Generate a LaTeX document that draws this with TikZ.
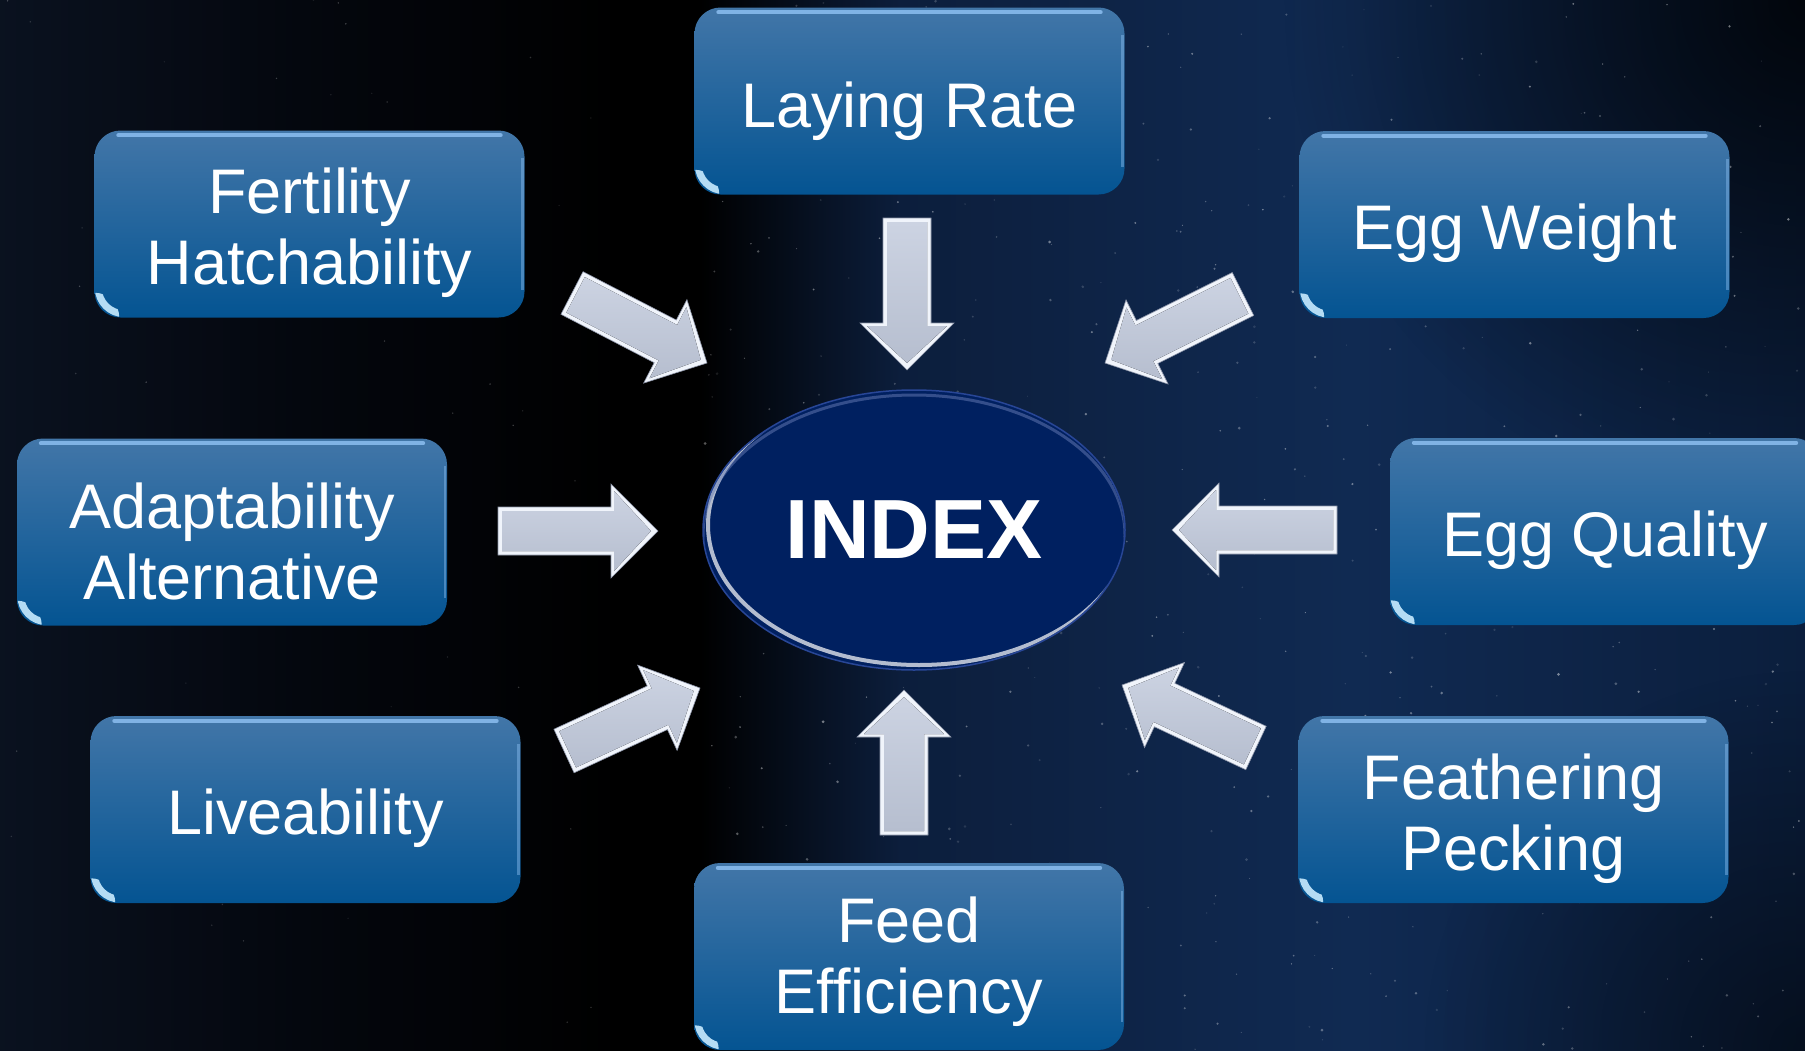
\documentclass[tikz,border=0pt]{standalone}
\usepackage{fontspec}
\setmainfont{Liberation Sans}
\usetikzlibrary{calc,shapes.geometric,fadings}
\definecolor{boxtop}{RGB}{66,118,168}
\definecolor{boxmid}{RGB}{14,94,152}
\definecolor{boxbot}{RGB}{4,84,146}
\definecolor{boxhi}{RGB}{140,190,240}
\definecolor{glosshi}{RGB}{200,235,255}
\definecolor{navy}{RGB}{0,32,96}
\definecolor{rim}{RGB}{40,70,150}
\definecolor{silverhi}{RGB}{240,244,251}
\definecolor{silvertop}{RGB}{204,211,226}
\definecolor{silverbot}{RGB}{182,190,207}
\definecolor{silveredge}{RGB}{140,148,168}
\definecolor{bgA}{RGB}{10,18,32}
\definecolor{bgB}{RGB}{4,7,14}
\definecolor{bgC}{RGB}{12,30,60}
\definecolor{bgD}{RGB}{16,42,82}
\definecolor{bgE}{RGB}{11,30,60}
\tikzfading[name=radfade, inner color=transparent!0, outer color=transparent!100]
\newcommand\blockarrow[2]{%
  \path ($(#1)!24pt!90:(#2)$) coordinate (s1)
        ($(#1)!24pt!-90:(#2)$) coordinate (s2)
        ($(#2)!47pt!(#1)$) coordinate (hb);
  \path ($(hb)!24pt!90:(#2)$) coordinate (h1)
        ($(hb)!47pt!90:(#2)$) coordinate (h2)
        ($(hb)!47pt!-90:(#2)$) coordinate (h3)
        ($(hb)!24pt!-90:(#2)$) coordinate (h4);
  \filldraw[arrowouter] (s1) -- (h1) -- (h2) -- (#2) -- (h3) -- (h4) -- (s2) -- cycle;
  \path ($(#1)!4pt!(#2)$) coordinate (ti)
        ($(#2)!7pt!(#1)$) coordinate (pi)
        ($(hb)!3pt!(#2)$) coordinate (hbi);
  \path ($(ti)!20pt!90:(#2)$) coordinate (u1)
        ($(ti)!20pt!-90:(#2)$) coordinate (u2)
        ($(hbi)!20pt!90:(#2)$) coordinate (v1)
        ($(hbi)!40pt!90:(#2)$) coordinate (v2)
        ($(hbi)!40pt!-90:(#2)$) coordinate (v3)
        ($(hbi)!20pt!-90:(#2)$) coordinate (v4);
  \fill[arrowinner] (u1) -- (v1) -- (v2) -- (pi) -- (v3) -- (v4) -- (u2) -- cycle;
}
\newcommand\glossbox[1]{%
  \begin{scope}
    \clip[rounded corners=26pt] (#1.north west) rectangle (#1.south east);
    \draw[line width=4pt, boxhi, opacity=0.85, line cap=round]
      ($(#1.north west)+(24,5)$) -- ($(#1.north east)+(-24,5)$);
    \draw[line width=2.5pt, boxhi, opacity=0.45]
      ($(#1.north east)+(-2,28)$) -- ($(#1.south east)+(-2,-28)$);
  \end{scope}
  \begin{scope}
    \clip[rounded corners=26pt] (#1.north west) rectangle (#1.south east);
    \clip (#1.south west) circle (25pt);
    \draw[line width=7pt, glosshi, opacity=0.9, rounded corners=26pt]
      ($(#1.north west)+(4,-4)$) rectangle ($(#1.south east)+(4,-4)$);
  \end{scope}
}
\begin{document}
\begin{tikzpicture}[x=1pt,y=-1pt,
  factor/.style={rounded corners=26pt, minimum width=430pt, minimum height=187pt,
    inner sep=0pt, top color=boxtop, middle color=boxmid, bottom color=boxbot},
  factortext/.style={text=white, align=center, inner sep=0pt,
    font=\fontsize{63}{71}\selectfont},
  arrowouter/.style={fill=silverhi, draw=silveredge, line width=0.6pt, line join=miter},
  arrowinner/.style={top color=silvertop, bottom color=silverbot}]
\useasboundingbox (0,0) rectangle (1805,1050);
\clip (0,0) rectangle (1805,1050);
% background
\fill[black] (-10,-10) rectangle (1815,1060);
\fill[left color=bgA, right color=bgB] (-10,-10) rectangle (300,1060);
\fill[left color=bgB, right color=black] (299,-10) rectangle (621,1060);
\fill[black] (619,-10) rectangle (702,1060);
\fill[left color=black, right color=bgC] (700,-10) rectangle (901,1060);
\fill[left color=bgC, right color=bgD] (899,-10) rectangle (1351,1060);
\fill[left color=bgD, right color=bgE] (1349,-10) rectangle (1815,1060);
\fill[black, path fading=radfade, fill opacity=0.8] (1805,0) circle (520pt);
\fill[black, path fading=radfade, fill opacity=0.5] (1805,1050) circle (380pt);
% stars
\pgfmathsetseed{4217}
\foreach \i in {1,...,480}{
  \pgfmathsetmacro{\sx}{700+1105*rnd}
  \pgfmathsetmacro{\sy}{1050*rnd}
  \pgfmathsetmacro{\so}{0.10+0.35*rnd}
  \pgfmathsetmacro{\sr}{0.5+1.0*rnd}
  \fill[white, opacity=\so] (\sx,\sy) circle (\sr pt);
}
\foreach \i in {1,...,60}{
  \pgfmathsetmacro{\sx}{600*rnd}
  \pgfmathsetmacro{\sy}{1050*rnd}
  \pgfmathsetmacro{\so}{0.08+0.2*rnd}
  \fill[white, opacity=\so] (\sx,\sy) circle (0.8pt);
}
% factor boxes
\node[factor] (lay)  at (909.5,101)   {};
\node[factor] (fert) at (309.5,224)   {};
\node[factor] (egw)  at (1514.5,224.5){};
\node[factor] (adap) at (232,532)     {};
\node[factor] (egq)  at (1605,531.5)  {};
\node[factor] (live) at (305.5,809.5) {};
\node[factor] (feat) at (1513.5,809.5){};
\node[factor] (feed) at (909,956.5)   {};
\foreach \b in {lay,fert,egw,adap,egq,live,feat,feed}{\glossbox{\b}}
\node[factortext] (layT)  at ($(lay.center)+(0,10)$)  {Laying Rate};
\node[factortext] (fertT) at ($(fert.center)+(0,9)$)  {Fertility\\Hatchability};
\node[factortext] (egwT)  at ($(egw.center)+(0,9)$)   {Egg Weight};
\node[factortext] (adapT) at ($(adap.center)+(0,9)$)  {Adaptability\\Alternative};
\node[factortext] (egqT)  at ($(egq.center)+(0,9)$)   {Egg Quality};
\node[factortext] (liveT) at ($(live.center)+(0,9)$)  {Liveability};
\node[factortext] (featT) at ($(feat.center)+(0,9)$)  {Feathering\\Pecking};
\node[factortext] (feedT) at ($(feed.center)+(0,5)$)  {Feed\\Efficiency};
% central ellipse
\node[ellipse, fill=navy, draw=rim, line width=1.5pt, minimum width=422pt,
  minimum height=280pt, inner sep=0pt, text=white,
  font=\bfseries\fontsize{84}{90}\selectfont] (index) at (914,530) {INDEX};
\begin{scope}
  \clip (914,530) ellipse [x radius=210, y radius=139];
  \draw[white, line width=4pt, opacity=0.7] (919,525) ellipse [x radius=211, y radius=140];
  \draw[rim!70!white, line width=3pt, opacity=0.5] (914,535) ellipse [x radius=211, y radius=140];
\end{scope}
% arrow end points
\coordinate (aFt) at (572,293);  \coordinate (aFh) at (707,363);
\coordinate (aLt) at (907,218);  \coordinate (aLh) at (907,370);
\coordinate (aWt) at (1243,294); \coordinate (aWh) at (1105,363);
\coordinate (aAt) at (498,531);  \coordinate (aAh) at (658,531);
\coordinate (aQt) at (1337,530); \coordinate (aQh) at (1172,530);
\coordinate (aVt) at (564,751);  \coordinate (aVh) at (700,688);
\coordinate (aEt) at (904,835);  \coordinate (aEh) at (904,690);
\coordinate (aPt) at (1256,748); \coordinate (aPh) at (1122,685);
\blockarrow{aFt}{aFh}
\blockarrow{aLt}{aLh}
\blockarrow{aWt}{aWh}
\blockarrow{aAt}{aAh}
\blockarrow{aQt}{aQh}
\blockarrow{aVt}{aVh}
\blockarrow{aEt}{aEh}
\blockarrow{aPt}{aPh}
\end{tikzpicture}
\end{document}
